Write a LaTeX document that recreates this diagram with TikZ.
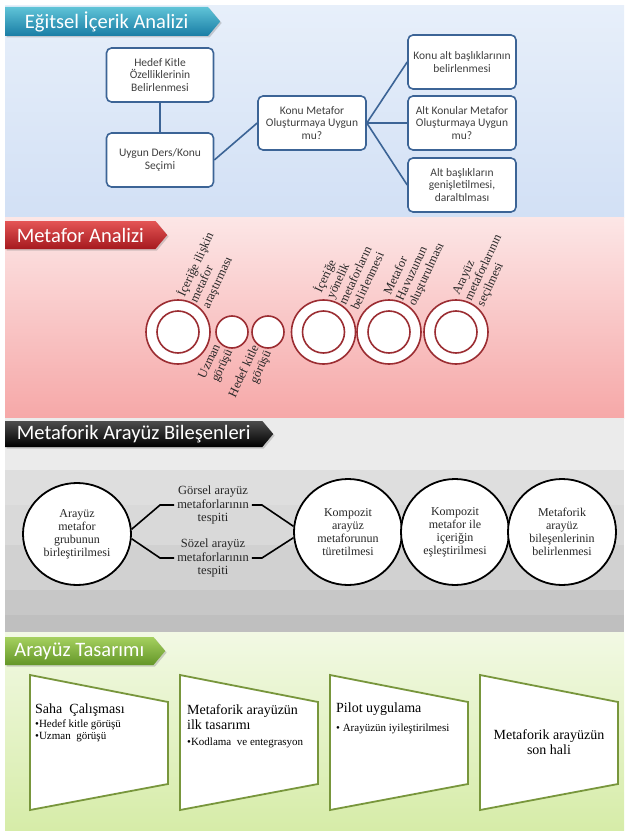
\documentclass[tikz,border=0pt]{standalone}
\usepackage{fontspec}
\setmainfont{Liberation Serif}
\newfontfamily\calibfont{Carlito}
\usepackage{tikz}
\usetikzlibrary{positioning, shapes, shadows}
\definecolor{boxblue}{RGB}{60,100,150}
\definecolor{ringred}{RGB}{155,45,50}
\definecolor{panelgreen}{RGB}{120,150,60}
\definecolor{bluetop}{RGB}{231,239,250}
\definecolor{bluebot}{RGB}{210,224,245}
\definecolor{pinktop}{RGB}{252,230,230}
\definecolor{pinkbot}{RGB}{246,168,168}
\definecolor{greentop}{RGB}{242,249,228}
\definecolor{greenbot}{RGB}{214,236,168}

\tikzset{
  banner/.style={shape=signal, signal to=east, signal pointer angle=100, anchor=west,
    inner sep=0pt, text=white, font=\calibfont\fontsize{20.5}{22}\selectfont,
    drop shadow={opacity=0.35, shadow xshift=1.5pt, shadow yshift=-1.5pt}},
  topbox/.style={draw=boxblue, line width=1.6pt, rounded corners=5pt, fill=white,
    minimum width=107pt, minimum height=54pt, inner sep=0.5pt, align=center,
    text=black!75, font=\calibfont\fontsize{11.5}{12.3}\selectfont},
  wire/.style={boxblue, line width=1.6pt},
  ring/.style={circle, draw=ringred, line width=1.6pt, fill=white, minimum size=64pt, inner sep=0pt,
    path picture={\draw[ringred, line width=1.6pt] (path picture bounding box.center) circle (21pt);}},
  dot/.style={circle, draw=ringred, line width=1.6pt, fill=white, minimum size=32pt, inner sep=0pt},
  ringlabel/.style={rotate=65, inner sep=1pt, text=black!85, font=\fontsize{12.5}{13.5}\selectfont},
  bigcirc/.style={ellipse, draw=black, line width=1.8pt, fill=white, minimum width=108pt,
    minimum height=106pt, inner sep=0pt, align=center, text=black!85, font=\fontsize{12}{13}\selectfont},
  midtext/.style={align=center, inner sep=3pt, text=black!85, font=\fontsize{12.5}{13.3}\selectfont},
  bracket/.style={black, line width=1.6pt},
  panel/.style={draw=panelgreen, line width=1.8pt, fill=white},
  paneltitle/.style={inner sep=0pt, align=left, font=\fontsize{14}{15}\selectfont},
  panelitem/.style={inner sep=0pt, align=left, font=\fontsize{11}{12}\selectfont}
}

\begin{document}
\begin{tikzpicture}[x=1pt,y=-1pt]
\useasboundingbox (0,0) rectangle (624,832);

% Backgrounds
\shade[top color=bluetop, bottom color=bluebot] (5,6) rectangle (624,217);
\shade[top color=pinktop, bottom color=pinkbot] (5,217) rectangle (624,418);
\foreach \ya/\yb/\g in {418/470/92, 470/505/87, 505/545/85, 545/590/82, 590/615/78, 615/632/75}
  \fill[white!\g!black] (5,\ya) rectangle (624,\yb);
\shade[top color=greentop, bottom color=greenbot] (5,632) rectangle (624,830);

% Banners
\node[banner, minimum width=215pt, minimum height=29pt, top color={rgb,255:red,95;green,195;blue,215},
  bottom color={rgb,255:red,25;green,125;blue,165}] (egitsel) at (5,21.5) {Eğitsel İçerik Analizi};
\node[banner, minimum width=162pt, minimum height=28pt, top color={rgb,255:red,228;green,85;blue,85},
  bottom color={rgb,255:red,165;green,25;blue,30}] (metafor) at (5,235) {Metafor Analizi};
\node[banner, minimum width=268pt, minimum height=26pt, top color=black!70,
  bottom color=black] (bilesen) at (5,434) {Metaforik Arayüz Bileşenleri};
\node[banner, minimum width=160pt, minimum height=28pt, top color={rgb,255:red,165;green,208;blue,95},
  bottom color={rgb,255:red,100;green,150;blue,40}] (tasarim) at (5,651) {Arayüz Tasarımı};

% Section 1
\node[topbox] (hedef) at (160,75) {Hedef Kitle\\Özelliklerinin\\Belirlenmesi};
\node[topbox] (ders) at (160,160) {Uygun Ders/Konu\\Seçimi};
\node[topbox, minimum width=108pt] (konu) at (312,123) {Konu Metafor\\Oluşturmaya Uygun\\mu?};
\node[topbox, minimum width=108pt] (altbaslik) at (462,62) {Konu alt başlıklarının\\belirlenmesi};
\node[topbox, minimum width=108pt] (altkonu) at (462,123) {Alt Konular Metafor\\Oluşturmaya Uygun\\mu?};
\node[topbox, minimum width=108pt] (genis) at (462,185) {Alt başlıkların\\genişletilmesi,\\daraltılması};
\draw[wire] (hedef) -- (ders);
\draw[wire] (ders.east) -- (konu.west);
\draw[wire] (konu.east) -- (altbaslik.west);
\draw[wire] (konu.east) -- (altkonu.west);
\draw[wire] (konu.east) -- (genis.west);

% Section 2
\node[ring] (icerik) at (178,332) {};
\node[dot] (uzman) at (232,332) {};
\node[dot] (hedefkitle) at (268,332) {};
\node[ring] (yonelik) at (323.5,332) {};
\node[ring] (havuz) at (389,332) {};
\node[ring] (secim) at (456,332) {};
\node[ringlabel, anchor=west, align=left] (icerikl) at (icerik.63) {İçeriğe ilişkin\\metafor\\araştırması};
\node[ringlabel, anchor=east, align=right] (uzmanl) at (uzman.243) {Uzman\\görüşü};
\node[ringlabel, anchor=east, align=right] (hedefkitlel) at (hedefkitle.252) {Hedef kitle\\görüşü};
\node[ringlabel, anchor=west, align=left] (yonelikl) at (yonelik.70) {İçeriğe\\yönelik\\metaforların\\belirlenmesi};
\node[ringlabel, anchor=west, align=left] (havuzl) at (havuz.71) {Metafor\\Havuzunun\\oluşturulması};
\node[ringlabel, anchor=west, align=left] (secimL) at (secim.68) {Arayüz\\metaforlarının\\seçilmesi};

% Section 3
\node[bigcirc, minimum height=102pt] (birles) at (77,534) {Arayüz\\metafor\\grubunun\\birleştirilmesi};
\node[bigcirc] (turet) at (348,532) {Kompozit\\arayüz\\metaforunun\\türetilmesi};
\node[bigcirc] (esles) at (455,532) {Kompozit\\metafor ile\\içeriğin\\eşleştirilmesi};
\node[bigcirc] (belirle) at (562,532) {Metaforik\\arayüz\\bileşenlerinin\\belirlenmesi};
\node[midtext] (gorsel) at (213,505) {Görsel arayüz\\metaforlarının\\tespiti};
\node[midtext] (sozel) at (213,558) {Sözel arayüz\\metaforlarının\\tespiti};
\draw[bracket] (birles.5) -- ([xshift=-14pt]gorsel.west) -- (gorsel.west);
\draw[bracket] (birles.-5) -- ([xshift=-14pt]sozel.west) -- (sozel.west);
\draw[bracket] (gorsel.east) -- ([xshift=10pt]gorsel.east) -- (turet.174);
\draw[bracket] (sozel.east) -- ([xshift=10pt]sozel.east) -- (turet.186);

% Section 4
\foreach \x in {30,180,330,480}
  \draw[panel] (\x,675) -- (\x+138,702) -- (\x+138,784) -- (\x,810) -- cycle;
\node[paneltitle, anchor=north west] (saha) at (35,704) {Saha\ \ Çalışması};
\node[panelitem, below=2pt of saha.south west, anchor=north west] (sahalist) {•Hedef kitle görüşü\\•Uzman\ \ görüşü};
\node[paneltitle, anchor=north west] (ilk) at (187,704) {Metaforik arayüzün\\ilk tasarımı};
\node[panelitem, below=8pt of ilk.south west, anchor=north west] (ilklist) {•Kodlama\ \ ve entegrasyon};
\node[paneltitle, anchor=north west] (pilot) at (336,703) {Pilot uygulama};
\node[panelitem, below=8pt of pilot.south west, anchor=north west] (pilotlist) {• Arayüzün iyileştirilmesi};
\node[paneltitle, align=center] (sonhali) at (549,742) {Metaforik arayüzün\\son hali};
\end{tikzpicture}
\end{document}
